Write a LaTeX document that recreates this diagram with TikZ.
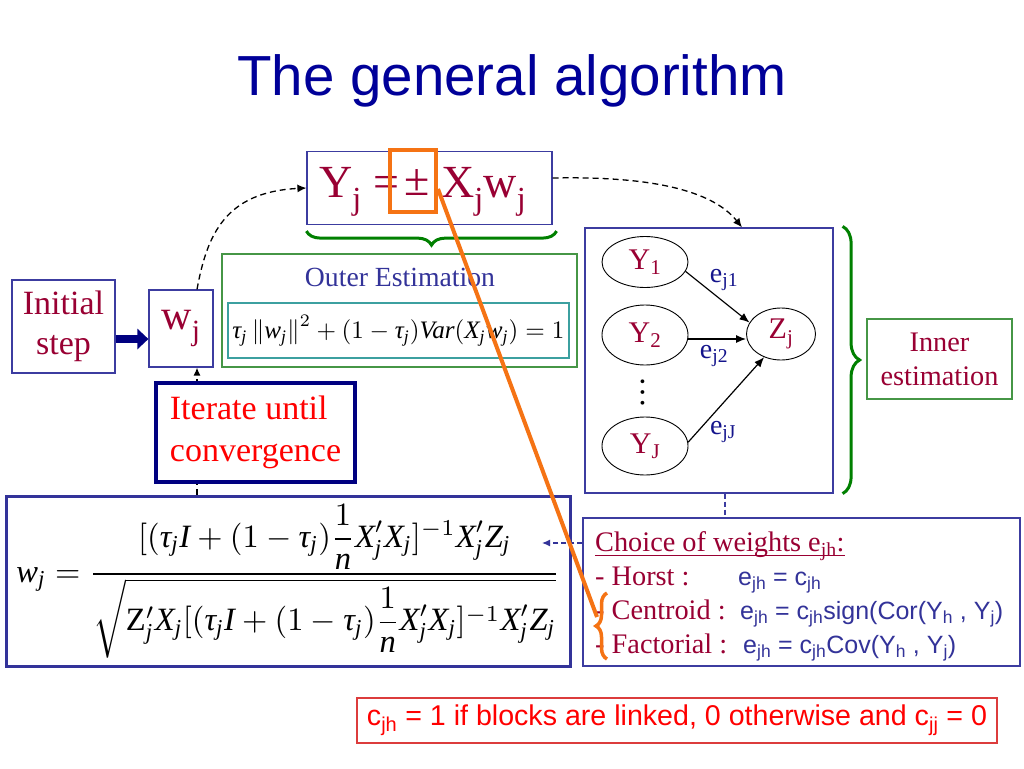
\documentclass[tikz,border=0pt]{standalone}
\usepackage{amsmath}
\usepackage{fontspec}
\setmainfont{Liberation Serif}
\newfontfamily\arialf{Liberation Sans}
\usetikzlibrary{arrows.meta,decorations.pathreplacing,shapes.geometric}
\definecolor{crim}{RGB}{153,0,51}
\definecolor{titleblue}{RGB}{0,0,153}
\definecolor{boxblue}{RGB}{60,60,160}
\definecolor{navyb}{RGB}{0,0,128}
\definecolor{fblue}{RGB}{51,51,153}
\definecolor{lblue}{RGB}{20,20,140}
\definecolor{oblue}{RGB}{51,51,153}
\definecolor{gbr}{RGB}{0,128,0}
\definecolor{gbx}{RGB}{70,150,70}
\definecolor{tealb}{RGB}{60,160,160}
\definecolor{orng}{RGB}{245,115,20}
\definecolor{redb}{RGB}{220,60,60}
\newcommand\fsz[2]{\fontsize{#1}{#2}\selectfont}
\newcommand\lo[1]{\textsubscript{#1}}
\newcommand\mi[1]{\textit{#1}}
\newcommand\mj{_{\mi{j}}}
\tikzset{
  bbox/.style={draw=boxblue, line width=1.2pt, inner sep=0pt},
  gbox/.style={draw=gbx, line width=1.2pt, inner sep=0pt},
  ell/.style={ellipse, draw=black, line width=0.9pt, inner sep=0pt, font=\fsz{30}{32}, text=crim},
  dashln/.style={black, line width=1.3pt, dash pattern=on 6pt off 4pt},
  arr/.style={black, line width=1.2pt, -{Latex[length=10pt,width=8pt]}},
  lbl/.style={font=\fsz{28}{30}, text=lblue, inner sep=0pt},
  gbrace/.style={gbr, line width=3pt, decorate},
  chtxt/.style={anchor=base west, font=\fsz{28.3}{30}, text=crim, inner sep=0pt},
  eqtxt/.style={anchor=base west, font=\arialf\fsz{25}{28}, text=oblue, inner sep=0pt}
}
\begin{document}
\begin{tikzpicture}[x=1pt,y=-1pt]
\useasboundingbox (0,0) rectangle (1024,768);
\fill[white] (0,0) rectangle (1024,768);

\node[font=\arialf\fsz{56.5}{60}, text=titleblue, anchor=base] (title) at (512,95) {The general algorithm};

% Y_j box
\node[bbox, minimum width=245pt, minimum height=73pt] (yj) at (429.5,188) {};
\node[inner sep=0pt, anchor=base west, font=\fsz{46}{50}, text=crim] (yjt) at (319,197)
  {Y\lo{j} =\hspace{5pt}\raisebox{2pt}{±} X\lo{j}w\lo{j}};
\node[draw=orng, line width=4pt, minimum width=46pt, minimum height=62pt, inner sep=0pt] (pm) at (413,181) {};
\draw[gbrace, decoration={brace, mirror, amplitude=14pt}] ([yshift=-6pt]yj.south west) -- ([yshift=-6pt,xshift=4pt]yj.south east);

% outer estimation
\node[gbox, minimum width=355pt, minimum height=113pt] (outer) at (399.5,310.5) {};
\node[font=\fsz{27.7}{30}, text=oblue, inner sep=0pt] (outert) at (400,277) {Outer Estimation};
\node[draw=tealb, line width=1.2pt, inner sep=0pt, minimum width=341pt, minimum height=55pt] (norm) at (398.5,330.5)
  {\resizebox{332pt}{!}{$\mi{τ}\mj\left\|\mi{w}\mj\right\|^2+(1-\mi{τ}\mj)\mi{Var}(\mi{X}\mj\mi{w}\mj)=1$}};

% initial step and w_j
\node[bbox, minimum width=103pt, minimum height=93pt, align=center, font=\fsz{34}{40}, text=crim] (init) at (63.5,326.5) {Initial\\step};
\node[bbox, minimum width=64pt, minimum height=77pt, font=\fsz{42}{44}, text=crim] (wj) at (181,328.5) {w\lo{j}};
\draw[navyb, line width=8pt, -{Triangle[length=11pt,width=20pt]}] ([yshift=-12.5pt]init.east) -- ([yshift=-10.5pt]wj.west);

% formula box
\node[draw=fblue, line width=3pt, minimum width=564pt, minimum height=170pt, inner sep=0pt] (form) at (288,581)
  {\resizebox{543pt}{!}{$\displaystyle \mi{w}\mj=\frac{[(\mi{τ}\mj\mi{I}+(1-\mi{τ}\mj)\dfrac{1}{\mi{n}}\mi{X}'\mj\mi{X}\mj]^{-1}\mi{X}'\mj\mi{Z}\mj}{\sqrt{\mathrm{Z}'\mj\mi{X}\mj[(\mi{τ}\mj\mi{I}+(1-\mi{τ}\mj)\dfrac{1}{\mi{n}}\mi{X}'\mj\mi{X}\mj]^{-1}\mi{X}'\mj\mi{Z}\mj}}$}};

\draw[dashln, -{Latex[length=8pt,width=7pt]}] ([xshift=-91pt]form.north) -- ([xshift=16pt]wj.south);
\node[draw=navyb, line width=4pt, fill=white, minimum width=199pt, minimum height=99pt, align=left, font=\fsz{34}{42}, text=red] (iter) at (255.5,432.5) {Iterate until\\convergence};

\draw[dashln, -{Latex[length=9pt,width=8pt]}] ([xshift=16pt]wj.north) .. controls (207,235) and (225,192) .. (yj.west);

% inner estimation
\node[bbox, minimum width=248pt, minimum height=265pt] (inner) at (709,360.5) {};
\draw[dashln, -{Latex[length=9pt,width=8pt]}] ([yshift=10pt]yj.east) .. controls (650,176) and (712,190) .. ([xshift=33pt]inner.north);

\node[ell, minimum width=86pt, minimum height=51pt] (y1) at (645,262) {Y\lo{1}};
\node[ell, minimum width=86pt, minimum height=60pt] (y2) at (645,335) {Y\lo{2}};
\node[ell, minimum width=86pt, minimum height=58pt] (yJ) at (645,446) {Y\lo{J}};
\node[ell, minimum width=69pt, minimum height=52pt] (zj) at (781,334) {Z\lo{j}};
\node[font=\fsz{32}{32}, inner sep=0pt, rotate=-90] (dots) at (643,392) {…};

\draw[arr] (y1.-13) -- (zj.160);
\draw[arr] ([yshift=-4pt]y2.east) -- ([yshift=-4pt]y2.east -| zj.west);
\draw[arr] (yJ.5) -- (zj.234);
\node[lbl] (e1) at (724,280) {e\lo{j1}};
\node[lbl] (e2) at (714,356) {e\lo{j2}};
\node[lbl] (e3) at (723,432) {e\lo{jJ}};

\draw[gbrace, decoration={brace, amplitude=17pt}] ([xshift=9pt,yshift=1pt]inner.north east) -- ([xshift=9pt]inner.south east);
\node[gbox, minimum width=145pt, minimum height=80pt, align=center, font=\fsz{28.3}{34}, text=crim] (innt) at (939.5,359) {Inner\\estimation};

% choice of weights
\node[bbox, minimum width=437pt, minimum height=148pt] (choice) at (801.5,592) {};
\draw[boxblue, line width=1.1pt, dash pattern=on 5pt off 3pt] ([xshift=16pt]inner.south) -- ([xshift=16pt]inner.south |- choice.north);
\node[chtxt] (ch1) at (595,551) {Choice of weights e\lo{jh}:};
\draw[crim, line width=1pt] ([yshift=-4pt]ch1.base west) -- ([yshift=-4pt]ch1.base east);
\node[chtxt] (ch2) at (595,585) {- Horst :};
\node[chtxt] (ch3) at (595,619) {- Centroid :};
\node[chtxt] (ch4) at (595,653) {- Factorial :};
\node[eqtxt] (q2) at (738,585) {e\lo{jh} = c\lo{jh}};
\node[eqtxt] (q3) at (740,619) {e\lo{jh} = c\lo{jh}sign(Cor(Y\lo{h} , Y\lo{j})};
\node[eqtxt] (q4) at (743,653) {e\lo{jh} = c\lo{jh}Cov(Y\lo{h} , Y\lo{j})};

\coordinate (fz) at (542,543);
\draw[fblue, line width=1.2pt, dash pattern=on 5pt off 3pt, -{Latex[length=8pt,width=7pt]}] (choice.west |- fz) -- (fz);

% orange highlight
\draw[orng, line width=3.5pt, decorate, decoration={brace, amplitude=11pt}] (607,659) -- (607,593);
\coordinate (btip) at (597,617);
\draw[orng, line width=4pt] ([yshift=-8pt]pm.east) -- (btip);

% note
\node[draw=redb, line width=1.3pt, minimum width=640pt, minimum height=45pt, inner sep=0pt, font=\arialf\fsz{28.6}{30}, text=red] (note) at (677,720.5)
  {c\lo{jh} = 1 if blocks are linked, 0 otherwise and c\lo{jj} = 0};
\end{tikzpicture}
\end{document}
